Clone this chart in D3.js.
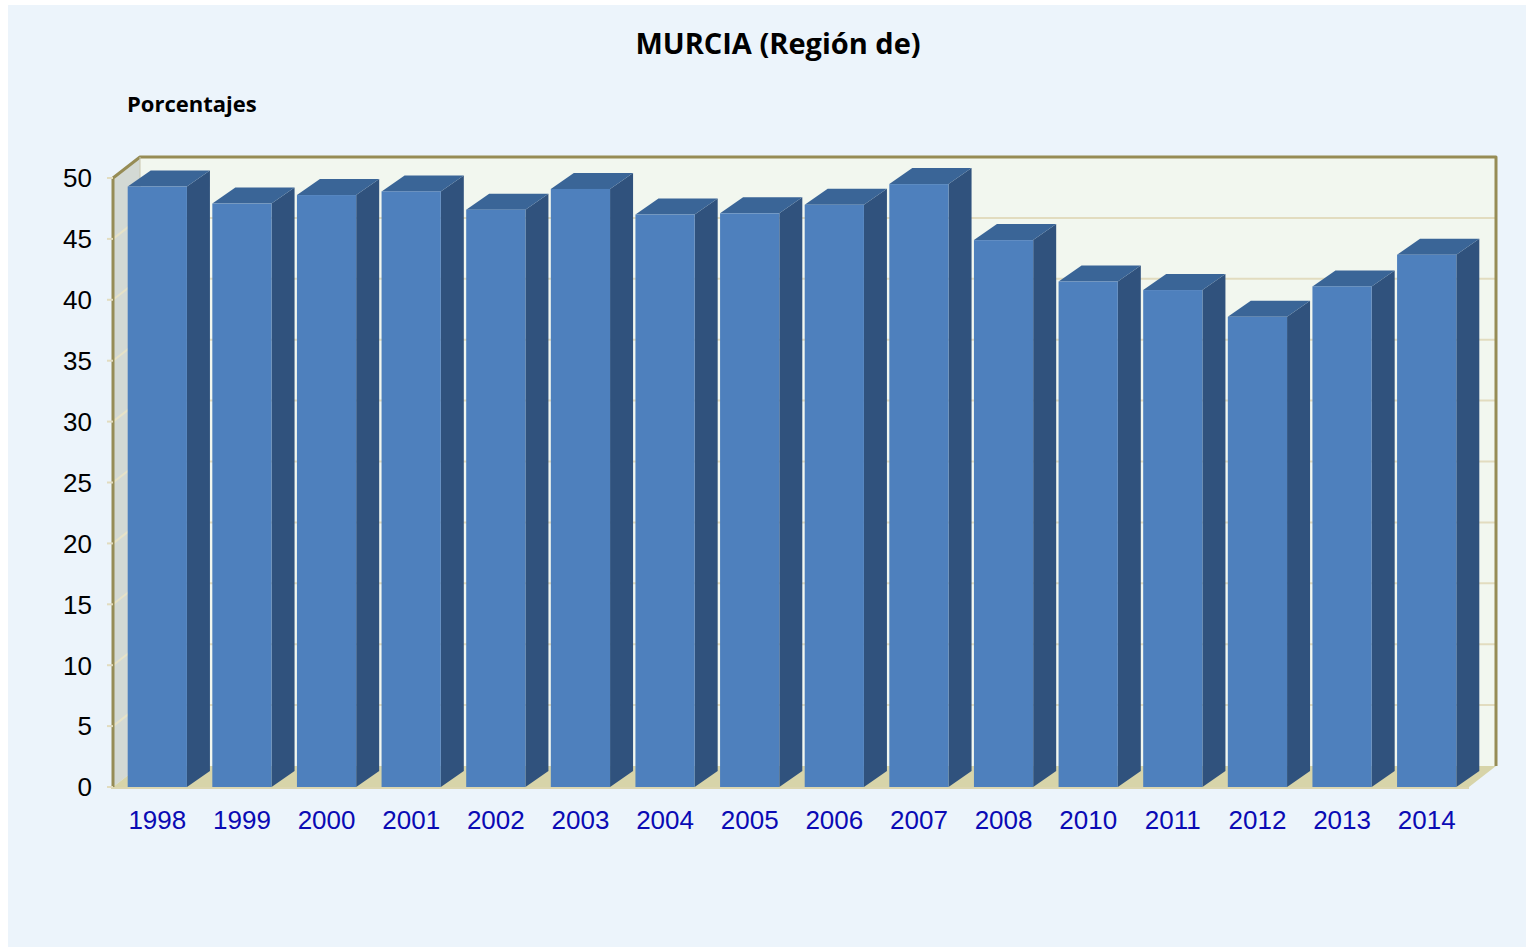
<!DOCTYPE html>
<html>
<head>
<meta charset="utf-8">
<script src="https://cdn.jsdelivr.net/npm/d3@7"></script>
<style>
  body { margin: 0; background: #ffffff; }
  svg { display: block; }
</style>
</head>
<body>
<div id="chart"></div>
<script>
// data
var years = ["1998", "1999", "2000", "2001", "2002", "2003", "2004", "2005",
             "2006", "2007", "2008", "2010", "2011", "2012", "2013", "2014"];
var values = [49.3, 47.9, 48.6, 48.9, 47.4, 49.1, 47.0, 47.1,
              47.8, 49.5, 44.9, 41.5, 40.8, 38.6, 41.1, 43.7];
var yTicks = [0, 5, 10, 15, 20, 25, 30, 35, 40, 45, 50];

var width = 1526, height = 949;

var svg = d3.select("#chart").append("svg")
    .attr("width", width)
    .attr("height", height);

// panel background
svg.append("rect")
    .attr("x", 8).attr("y", 5)
    .attr("width", width - 8).attr("height", height - 7)
    .attr("fill", "#ecf4fb");

// plot geometry
var x0 = 113, x1 = 1469;       // front plane left/right
var wallDx = 27, wallDy = -21;  // depth of the walls
var barDx = 23, barDy = -16;    // depth of each bar

var y = d3.scaleLinear().domain([0, 50]).range([787, 178]);
var x = d3.scaleBand().domain(years).range([115, 1469]).paddingInner(0.3).paddingOuter(0.15);

var olive = "#968c55";

//back wall
svg.append("polygon")
    .attr("points", [[x0 + wallDx, y(50) + wallDy], [x1 + wallDx, y(50) + wallDy],
                     [x1 + wallDx, y(0) + wallDy], [x0 + wallDx, y(0) + wallDy]].join(" "))
    .attr("fill", "#f2f7ef");

//left wall
svg.append("polygon")
    .attr("points", [[x0, y(50)], [x0 + wallDx, y(50) + wallDy],
                     [x0 + wallDx, y(0) + wallDy], [x0, y(0)]].join(" "))
    .attr("fill", "#d3d9d4");

// gridlines on both walls
var grid = yTicks.filter(function(d) { return d > 0 && d < 50; });
svg.selectAll("line.gridBack")
    .data(grid)
    .enter()
    .append("line")
    .attr("class", "gridBack")
    .attr("x1", x0 + wallDx).attr("x2", x1 + wallDx)
    .attr("y1", function(d) { return y(d) + wallDy; })
    .attr("y2", function(d) { return y(d) + wallDy; })
    .attr("stroke", "#e2dcbf").attr("stroke-width", 2);

svg.selectAll("line.gridSide")
    .data(grid)
    .enter()
    .append("line")
    .attr("class", "gridSide")
    .attr("x1", x0).attr("x2", x0 + wallDx)
    .attr("y1", function(d) { return y(d); })
    .attr("y2", function(d) { return y(d) + wallDy; })
    .attr("stroke", "#e6e2c8").attr("stroke-width", 2);

//floor
svg.append("polygon")
    .attr("points", [[x0, y(0)], [x0 + wallDx, y(0) + wallDy],
                     [x1 + wallDx, y(0) + wallDy], [x1, y(0)]].join(" "))
    .attr("fill", "#d7d4a9");

// wall frame
svg.append("polyline")
    .attr("points", [[x0, y(0)], [x0, y(50)], [x0 + wallDx, y(50) + wallDy],
                     [x1 + wallDx, y(50) + wallDy], [x1 + wallDx, y(0) + wallDy]].join(" "))
    .attr("fill", "none")
    .attr("stroke", olive).attr("stroke-width", 3)
    .attr("stroke-linejoin", "round");

svg.append("line")
    .attr("x1", x0 + wallDx).attr("x2", x0 + wallDx)
    .attr("y1", y(50) + wallDy).attr("y2", y(0) + wallDy)
    .attr("stroke", "#c9c7b0").attr("stroke-width", 1);

// bars
var bars = svg.selectAll("g.bar")
    .data(values)
    .enter()
    .append("g")
    .attr("class", "bar");

bars.append("polygon")
    .attr("points", function(d, i) {
        var bx = x(years[i]) + x.bandwidth(), by = y(d);
        return [[bx, by], [bx + barDx, by + barDy], [bx + barDx, y(0) + barDy], [bx, y(0)]].join(" ");
    })
    .attr("fill", "#30527d");

bars.append("polygon")
    .attr("points", function(d, i) {
        var bx = x(years[i]), by = y(d), w = x.bandwidth();
        return [[bx, by], [bx + barDx, by + barDy], [bx + w + barDx, by + barDy], [bx + w, by]].join(" ");
    })
    .attr("fill", "#3a6597");

bars.append("rect")
    .attr("x", function(d, i) { return x(years[i]); })
    .attr("y", function(d) { return y(d); })
    .attr("width", x.bandwidth())
    .attr("height", function(d) { return y(0) - y(d); })
    .attr("fill", "#4e80bd");

// front floor edge
svg.append("line")
    .attr("x1", x0 - 2).attr("x2", x1)
    .attr("y1", y(0) + 1).attr("y2", y(0) + 1)
    .attr("stroke", "#dcd6b0").attr("stroke-width", 2);

// y axis ticks and labels
svg.selectAll("line.tick")
    .data(yTicks)
    .enter()
    .append("line")
    .attr("class", "tick")
    .attr("x1", x0 - 6).attr("x2", x0)
    .attr("y1", function(d) { return y(d); })
    .attr("y2", function(d) { return y(d); })
    .attr("stroke", "#e2dcbf").attr("stroke-width", 2);

svg.selectAll("text.ylabel")
    .data(yTicks)
    .enter()
    .append("text")
    .attr("class", "ylabel")
    .attr("x", 92)
    .attr("y", function(d) { return y(d); })
    .attr("dy", "0.36em")
    .attr("text-anchor", "end")
    .style("font-family", "'Liberation Sans', Arial, sans-serif")
    .style("font-size", "26px")
    .attr("fill", "#000")
    .text(function(d) { return d; });

// x labels
svg.selectAll("text.xlabel")
    .data(years)
    .enter()
    .append("text")
    .attr("class", "xlabel")
    .attr("x", function(d) { return x(d) + x.bandwidth() / 2; })
    .attr("y", 829)
    .attr("text-anchor", "middle")
    .style("font-family", "'Liberation Sans', Arial, sans-serif")
    .style("font-size", "26px")
    .attr("fill", "#0a0ab4")
    .text(function(d) { return d; });

// titles
svg.append("text")
    .attr("x", 778).attr("y", 54)
    .attr("text-anchor", "middle")
    .style("font-family", "'Open Sans', 'Noto Sans', sans-serif")
    .style("font-weight", "bold")
    .style("font-size", "29px")
    .attr("fill", "#000")
    .text("MURCIA (Región de)");

svg.append("text")
    .attr("x", 127).attr("y", 112)
    .style("font-family", "'Open Sans', 'Noto Sans', sans-serif")
    .style("font-weight", "bold")
    .style("font-size", "22px")
    .attr("fill", "#000")
    .text("Porcentajes");
</script>
</body>
</html>
